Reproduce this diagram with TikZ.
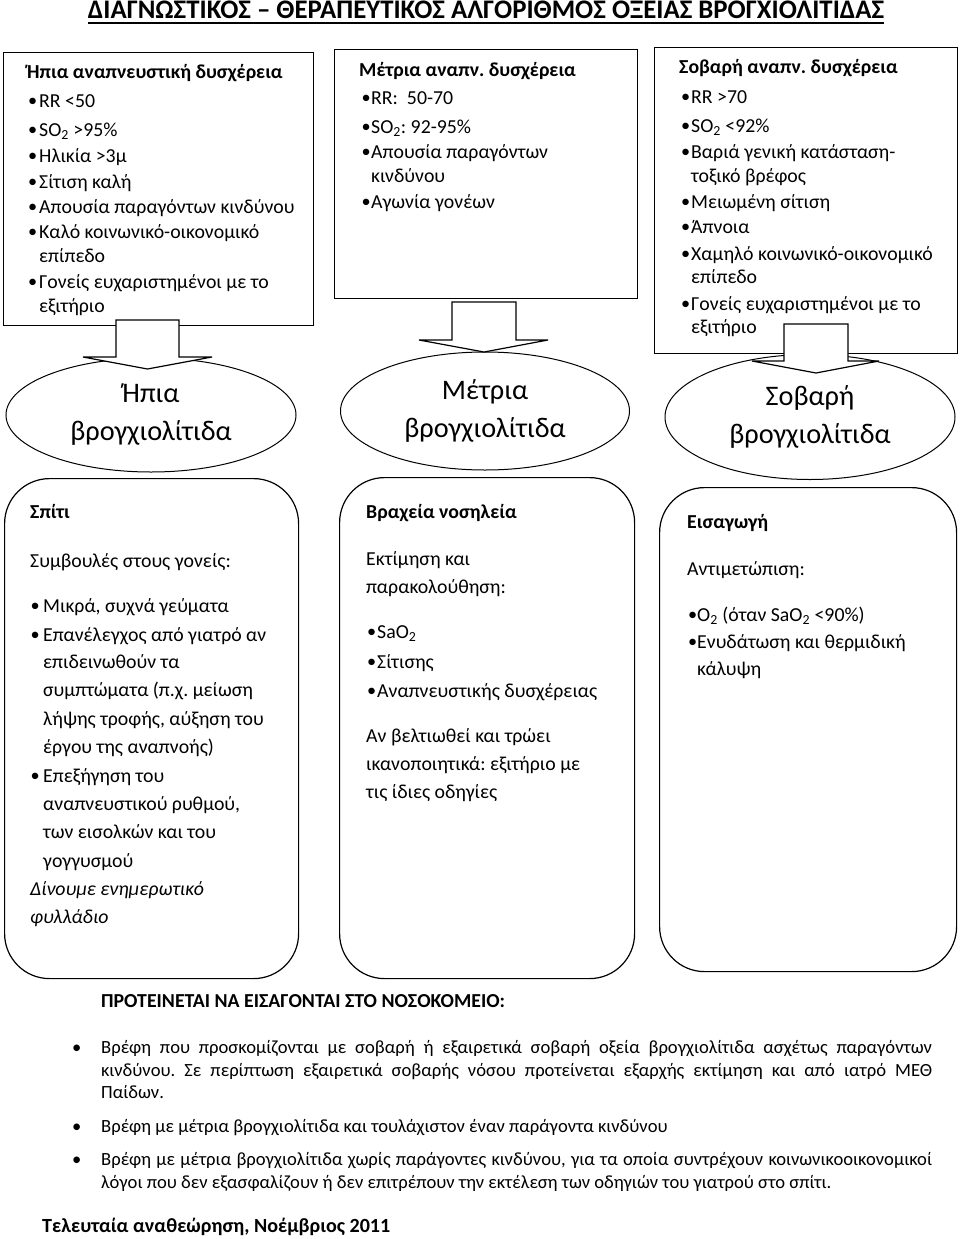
\documentclass[tikz,border=0pt]{standalone}
\usepackage{fontspec}
\usepackage{graphicx}
\setmainfont{Carlito}
\usetikzlibrary{shapes.geometric}
\frenchspacing
\newcommand\bl[1][9pt]{\makebox[#1][l]{\kern0.3pt\raisebox{0.3pt}{\scalebox{0.92}{\textbullet}}}}
\newcommand\SOt{SO\textsubscript{2}}
\newcommand\SaOt{SaO\textsubscript{2}}
\newcommand\Ot{O\textsubscript{2}}
\begin{document}
\begin{tikzpicture}[x=1pt,y=-1pt,
  box/.style={draw, line width=1.3pt, inner sep=0pt, anchor=north west},
  rbox/.style={draw, line width=1.2pt, rounded corners=45pt, inner sep=0pt, anchor=north west},
  oval/.style={draw, ellipse, line width=1pt, inner sep=0pt, align=center, font=\fontsize{28.3}{38}\selectfont},
  barrow/.style={draw, fill=white, line width=1.2pt, line join=miter},
  txt/.style={anchor=base west, inner sep=0pt, font=\fontsize{19.8}{22}\selectfont},
  hd/.style={txt, font=\fontsize{19.8}{22}\selectfont\bfseries},
  it/.style={txt, font=\fontsize{19.8}{22}\selectfont\itshape},
  low/.style={txt, font=\fontsize{18.6}{22}\selectfont},
]
\fill[white] (0,0) rectangle (960,1239);
\useasboundingbox (0,0) rectangle (960,1239);

% title
\node[anchor=base, inner sep=0pt, font=\fontsize{26.8}{28}\selectfont\bfseries] (title) at (486,19) {ΔΙΑΓΝΩΣΤΙΚΟΣ – ΘΕΡΑΠΕΥΤΙΚΟΣ ΑΛΓΟΡΙΘΜΟΣ ΟΞΕΙΑΣ ΒΡΟΓΧΙΟΛΙΤΙΔΑΣ};
\draw[line width=2.6pt] ([yshift=-4pt]title.base west) -- ([yshift=-4pt]title.base east);

% top boxes
\node[box, minimum width=310pt, minimum height=273pt] (B1) at (3,52) {};
\node[box, minimum width=303pt, minimum height=249pt] (B2) at (334,49) {};
\node[box, minimum width=303pt, minimum height=306pt] (B3) at (654,47) {};

% ellipses
\node[oval, minimum width=290pt, minimum height=114pt] (E1) at (151,415) {Ήπια\\βρογχιολίτιδα};
\node[oval, minimum width=289pt, minimum height=118pt] (E2) at (485,411) {Μέτρια\\βρογχιολίτιδα};
\node[oval, minimum width=290pt, minimum height=125pt] (E3) at (810,417) {Σοβαρή\\βρογχιολίτιδα};

% block arrows
\draw[barrow] (116,320) -- (179,320) -- (179,357) -- (212,357) -- (147.5,369) -- (83,357) -- (116,357) -- cycle;
\draw[barrow] (452,302) -- (516,302) -- (516,340) -- (548,340) -- (484,352) -- (419,340) -- (452,340) -- cycle;
\draw[barrow] (784,324) -- (848,324) -- (848,361) -- (879,361) -- (816,373) -- (752,361) -- (784,361) -- cycle;

% rounded boxes
\node[rbox, minimum width=294pt, minimum height=500pt] (R1) at (4,478) {};
\node[rbox, minimum width=295pt, minimum height=501pt] (R2) at (339,477) {};
\node[rbox, minimum width=297pt, minimum height=484pt] (R3) at (659,487) {};

% box 1 text
\node[hd] (a0) at (27,78) {Ήπια αναπνευστική δυσχέρεια};
\foreach \y/\t [count=\i] in {
 107/{\bl[11.3pt]RR <50},
 136/{\bl[11.3pt]\SOt{} >95\%},
 162/{\bl[11.3pt]Ηλικία >3μ},
 188/{\bl[11.3pt]Σίτιση καλή},
 213/{\bl[11.3pt]Απουσία παραγόντων κινδύνου},
 238/{\bl[11.3pt]Καλό κοινωνικό-οικονομικό},
 262/{\hspace*{11.3pt}επίπεδο},
 288/{\bl[11.3pt]Γονείς ευχαριστημένοι με το},
 312/{\hspace*{11.3pt}εξιτήριο}}
 {\node[txt, name=a\i] at (27.7,\y) {\t};}

% box 2 text
\node[hd] (b0) at (359,77) {Μέτρια αναπν. δυσχέρεια};
\foreach \y/\t [count=\i] in {
 104/{\bl[10pt]RR:\ \ 50-70},
 133/{\bl[10pt]\SOt: 92-95\%},
 158/{\bl[10pt]Απουσία παραγόντων},
 182/{\hspace*{10pt}κινδύνου},
 208/{\bl[10pt]Αγωνία γονέων}}
 {\node[txt, name=b\i] at (361,\y) {\t};}

% box 3 text
\node[hd] (c0) at (679,74) {Σοβαρή αναπν. δυσχέρεια};
\foreach \y/\t [count=\i] in {
 103/{\bl[10.5pt]RR >70},
 132/{\bl[10.5pt]\SOt{} <92\%},
 158/{\bl[10.5pt]Βαριά γενική κατάσταση-},
 182/{\hspace*{10.5pt}τοξικό βρέφος},
 208/{\bl[10.5pt]Μειωμένη σίτιση},
 233/{\bl[10.5pt]Άπνοια},
 260/{\bl[10.5pt]Χαμηλό κοινωνικό-οικονομικό},
 283/{\hspace*{10.5pt}επίπεδο},
 310/{\bl[10.5pt]Γονείς ευχαριστημένοι με το},
 333/{\hspace*{10.5pt}εξιτήριο}}
 {\node[txt, name=c\i] at (680.5,\y) {\t};}

% rounded box 1 text
\node[hd] (d0) at (30,518) {Σπίτι};
\node[txt] (d00) at (30,567) {Συμβουλές στους γονείς:};
\foreach \y/\t [count=\i] in {
 612/{\bl[13pt]Μικρά, συχνά γεύματα},
 641/{\bl[13pt]Επανέλεγχος από γιατρό αν},
 668/{\hspace*{13pt}επιδεινωθούν τα},
 696/{\hspace*{13pt}συμπτώματα (π.χ. μείωση},
 725/{\hspace*{13pt}λήψης τροφής, αύξηση του},
 753/{\hspace*{13pt}έργου της αναπνοής)},
 782/{\bl[13pt]Επεξήγηση του},
 810/{\hspace*{13pt}αναπνευστικού ρυθμού,},
 838/{\hspace*{13pt}των εισολκών και του},
 867/{\hspace*{13pt}γογγυσμού}}
 {\node[txt, name=d\i] at (30,\y) {\t};}
\node[it] (d11) at (30,895) {Δίνουμε ενημερωτικό};
\node[it] (d12) at (30,923) {φυλλάδιο};

% rounded box 2 text
\node[hd] (e0) at (366,518) {Βραχεία νοσηλεία};
\node[txt] (e1) at (366,565) {Εκτίμηση και};
\node[txt] (e2) at (366,593) {παρακολούθηση:};
\node[txt] (e3) at (366.5,638) {\bl[10.5pt]\SaOt};
\node[txt] (e4) at (366.5,668) {\bl[10.5pt]Σίτισης};
\node[txt] (e5) at (366.5,697) {\bl[10.5pt]Αναπνευστικής δυσχέρειας};
\node[txt] (e6) at (366,742) {Αν βελτιωθεί και τρώει};
\node[txt] (e7) at (366,770) {ικανοποιητικά: εξιτήριο με};
\node[txt] (e8) at (366,798) {τις ίδιες οδηγίες};

% rounded box 3 text
\node[hd] (f0) at (687,528) {Εισαγωγή};
\node[txt] (f1) at (687,575) {Αντιμετώπιση:};
\node[txt] (f2) at (687.5,621) {\bl[9.5pt]\Ot{} (όταν \SaOt{} <90\%)};
\node[txt] (f3) at (687.5,648) {\bl[9.5pt]Ενυδάτωση και θερμιδική};
\node[txt] (f4) at (687.5,675) {\hspace*{9.5pt}κάλυψη};

% bottom text
\node[hd] (g0) at (101,1007) {ΠΡΟΤΕΙΝΕΤΑΙ ΝΑ ΕΙΣΑΓΟΝΤΑΙ ΣΤΟ ΝΟΣΟΚΟΜΕΙΟ:};
\node[low] (gb1) at (72,1053) {\textbullet};
\node[low] (gb2) at (72,1132) {\textbullet};
\node[low] (gb3) at (72,1165) {\textbullet};
\node[low] (g1) at (101,1053) {\makebox[831pt][s]{Βρέφη που προσκομίζονται με σοβαρή ή εξαιρετικά σοβαρή οξεία βρογχιολίτιδα ασχέτως παραγόντων}};
\node[low] (g2) at (101,1076) {\makebox[831pt][s]{κινδύνου. Σε περίπτωση εξαιρετικά σοβαρής νόσου προτείνεται εξαρχής εκτίμηση και από ιατρό ΜΕΘ}};
\node[low] (g3) at (101,1098) {Παίδων.};
\node[low] (g4) at (101,1132) {Βρέφη με μέτρια βρογχιολίτιδα και τουλάχιστον έναν παράγοντα κινδύνου};
\node[low] (g5) at (101,1165) {\makebox[831pt][s]{Βρέφη με μέτρια βρογχιολίτιδα χωρίς παράγοντες κινδύνου, για τα οποία συντρέχουν κοινωνικοοικονομικοί}};
\node[low] (g6) at (101,1188) {λόγοι που δεν εξασφαλίζουν ή δεν επιτρέπουν την εκτέλεση των οδηγιών του γιατρού στο σπίτι.};

\node[txt, font=\fontsize{20.1}{22}\selectfont\bfseries] (foot) at (42,1232) {Τελευταία αναθεώρηση, Νοέμβριος 2011};
\end{tikzpicture}
\end{document}
